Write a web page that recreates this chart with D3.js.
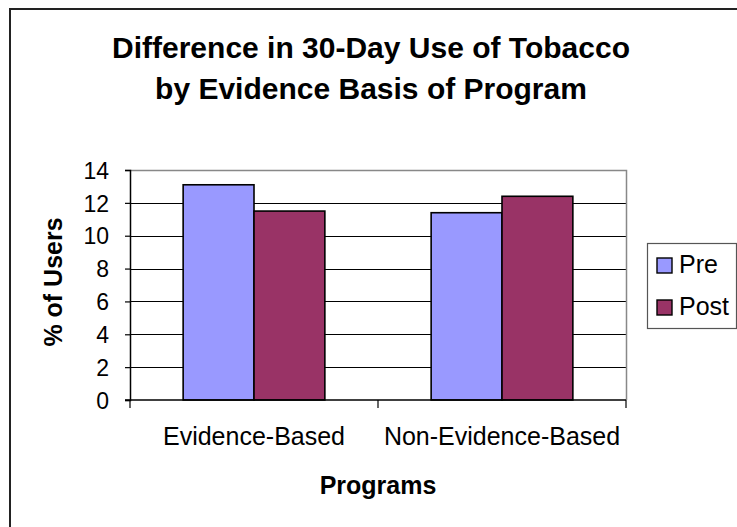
<!DOCTYPE html>
<html>
<head>
<meta charset="utf-8">
<script src="https://cdn.jsdelivr.net/npm/d3@7"></script>
<style>
  html, body { margin: 0; padding: 0; background: #fff; }
  svg { display: block; font-family: "Liberation Sans", Arial, Helvetica, sans-serif; }
</style>
</head>
<body>
<svg id="chart" width="737" height="527"></svg>
<script>
// Chart data
const categories = ["Evidence-Based", "Non-Evidence-Based"];
const seriesNames = ["Pre", "Post"];
const preValues = [13.1, 11.4];
const postValues = [11.5, 12.4];
const yTicks = [0, 2, 4, 6, 8, 10, 12, 14];
const titleLines = ["Difference in 30-Day Use of Tobacco", "by Evidence Basis of Program"];
const xTitle = "Programs";
const yTitle = "% of Users";

const colors = { Pre: "#9999ff", Post: "#993366" };
const seriesValues = { Pre: preValues, Post: postValues };

const svg = d3.select("#chart");
const plot = { left: 130, top: 170, right: 626, bottom: 400 };

svg.append("rect").attr("width", 737).attr("height", 527).attr("fill", "#fff");

// Outer chart frame (extends past the right/bottom edges)
svg.append("rect")
  .attr("x", 10).attr("y", 9)
  .attr("width", 740).attr("height", 540)
  .attr("fill", "none").attr("stroke", "#222").attr("stroke-width", 2);

// Title
svg.append("g").selectAll("text").data(titleLines).join("text")
  .attr("x", 371).attr("y", (d, i) => 58 + i * 41)
  .attr("text-anchor", "middle")
  .attr("font-weight", "bold").attr("font-size", 30)
  .attr("fill", "#000")
  .text(d => d);

// Scales
const y = d3.scaleLinear().domain([0, 14]).range([plot.bottom, plot.top]);
const x0 = d3.scaleBand().domain(categories).range([plot.left, plot.right]).padding(0);
const x1 = d3.scaleBand().domain(seriesNames).range([0, x0.bandwidth()])
  .paddingInner(0).paddingOuter(0.75);

// Gridlines
svg.append("g").selectAll("line").data(yTicks.filter(t => t > 0 && t < 14)).join("line")
  .attr("x1", plot.left).attr("x2", plot.right)
  .attr("y1", d => Math.round(y(d)) + 0.5).attr("y2", d => Math.round(y(d)) + 0.5)
  .attr("stroke", "#000").attr("stroke-width", 1);

// Plot area border (top and right)
svg.append("path")
  .attr("d", `M${plot.left},${plot.top + 0.5}H${plot.right + 0.5}V${plot.bottom}`)
  .attr("fill", "none").attr("stroke", "#888").attr("stroke-width", 1.5);

// Bars
const groups = svg.append("g").selectAll("g").data(categories).join("g")
  .attr("transform", d => `translate(${x0(d)},0)`);
groups.selectAll("rect")
  .data((c, i) => seriesNames.map(s => ({ s, v: seriesValues[s][i] })))
  .join("rect")
  .attr("x", d => x1(d.s))
  .attr("y", d => y(d.v))
  .attr("width", x1.bandwidth())
  .attr("height", d => y(0) - y(d.v))
  .attr("fill", d => colors[d.s])
  .attr("stroke", "#000").attr("stroke-width", 1.6);

// Y axis
const yAxis = d3.axisLeft(y).tickValues(yTicks).tickSize(5).tickPadding(16).tickFormat(d3.format("d"));
const gy = svg.append("g").attr("transform", `translate(${plot.left},0)`).call(yAxis);
gy.select(".domain").attr("stroke", "#000").attr("stroke-width", 1.5);
gy.selectAll(".tick line").attr("stroke", "#000").attr("stroke-width", 1.2);
gy.selectAll(".tick text").attr("font-size", 23).attr("fill", "#000")
  .attr("font-family", "'Liberation Sans', Arial, sans-serif").attr("dy", "0.36em");

// X axis: category boundary ticks and labels
const boundaries = [plot.left, ...categories.slice(1).map(c => x0(c)), plot.right];
const gx = svg.append("g");
gx.append("line").attr("x1", plot.left - 5).attr("x2", plot.right)
  .attr("y1", plot.bottom).attr("y2", plot.bottom)
  .attr("stroke", "#000").attr("stroke-width", 1.5);
gx.selectAll("line.b").data(boundaries).join("line").attr("class", "b")
  .attr("x1", d => d).attr("x2", d => d)
  .attr("y1", plot.bottom).attr("y2", plot.bottom + 8)
  .attr("stroke", "#000").attr("stroke-width", 1.2);
gx.selectAll("text").data(categories).join("text")
  .attr("x", d => x0(d) + x0.bandwidth() / 2)
  .attr("y", 445)
  .attr("text-anchor", "middle").attr("font-size", 25).attr("fill", "#000")
  .text(d => d);

// Axis titles
svg.append("text")
  .attr("x", (plot.left + plot.right) / 2).attr("y", 494)
  .attr("text-anchor", "middle").attr("font-weight", "bold").attr("font-size", 25)
  .text(xTitle);
svg.append("text")
  .attr("transform", "translate(62,282) rotate(-90)")
  .attr("text-anchor", "middle").attr("font-weight", "bold").attr("font-size", 25)
  .text(yTitle);

// Legend
const legend = svg.append("g");
legend.append("rect")
  .attr("x", 647.5).attr("y", 243.5).attr("width", 89).attr("height", 85)
  .attr("fill", "#fff").attr("stroke", "#555").attr("stroke-width", 1.2);
const items = legend.selectAll("g").data(seriesNames).join("g")
  .attr("transform", (d, i) => `translate(657,${258 + i * 42})`);
items.append("rect")
  .attr("width", 15).attr("height", 15)
  .attr("fill", d => colors[d]).attr("stroke", "#000").attr("stroke-width", 1.4);
items.append("text")
  .attr("x", 22).attr("y", 15)
  .attr("font-size", 25).attr("fill", "#000")
  .text(d => d);
</script>
</body>
</html>
